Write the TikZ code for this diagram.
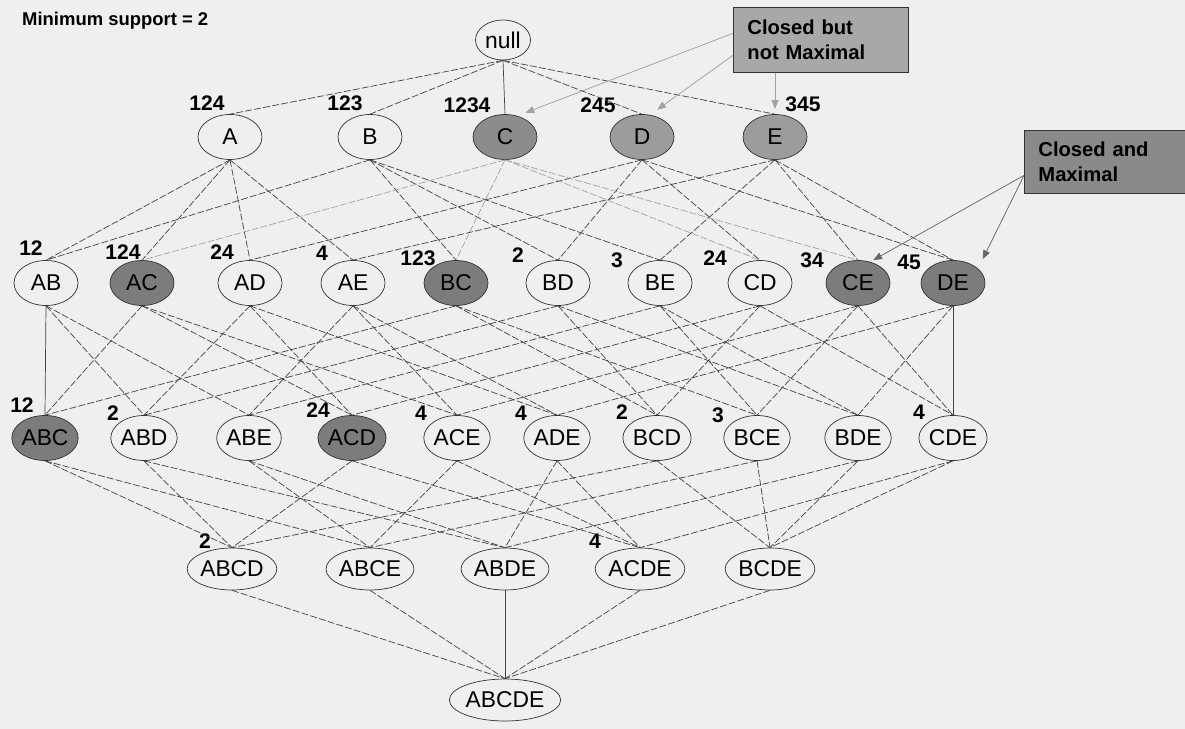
\documentclass[tikz,border=0pt]{standalone}
\usepackage{fontspec}
\setmainfont{Liberation Sans}
\usetikzlibrary{shapes.geometric, arrows.meta}
\definecolor{paperGrey}{HTML}{EFEFEF}
\definecolor{inkGrey}{HTML}{424242}
\definecolor{paleGrey}{HTML}{A2A2A2}
\definecolor{closedGrey}{HTML}{9C9C9C}
\definecolor{maxGrey}{HTML}{7C7C7C}
\definecolor{noteGrey}{HTML}{A8A8A8}
\definecolor{noteDarkGrey}{HTML}{8A8A8A}

\begin{document}
\begin{tikzpicture}[x=0.02cm, y=-0.02cm, font=\fontsize{13}{15}\selectfont,
    item/.style={ellipse, draw=black!80, thin, fill=paperGrey, inner sep=0pt,
      minimum width=1.28cm, minimum height=0.9cm},
    closed/.style={item, fill=closedGrey},
    closedmax/.style={item, fill=maxGrey},
    support/.style={font=\fontsize{12}{14}\selectfont\bfseries, inner sep=0pt},
    link/.style={draw=inkGrey, thin, dash pattern=on 4pt off 1.2pt},
    palelink/.style={link, draw=paleGrey},
    note/.style={draw=black!80, thin, anchor=north west, align=left, inner xsep=8pt,
      text width=2.94cm, font=\fontsize{11.5}{14.5}\selectfont\bfseries},
    pointer/.style={-{Triangle[length=5pt,width=4pt]}, thin}]
    \fill[paperGrey] (0,0) rectangle (1185,729);
    \useasboundingbox (0,0) rectangle (1185,729);
    \clip (0,0) rectangle (1185,729);

    \node[anchor=west, font=\fontsize{10.5}{12}\selectfont\bfseries] (minsup) at (16,21) {Minimum support = 2};

    % itemset lattice
    \node[item, minimum width=1.1cm, minimum height=0.8cm] (null) at (503,40) {null};

    \node[item] (A) at (230,137) {A};
    \node[item] (B) at (370,137) {B};
    \node[closed, fill=closedGrey!90!black] (C) at (505,137) {C};
    \node[closed] (D) at (642,137) {D};
    \node[closed] (E) at (775,137) {E};

    \node[item] (AB) at (46,283) {AB};
    \node[closedmax] (AC) at (142,283) {AC};
    \node[item] (AD) at (250,283) {AD};
    \node[item] (AE) at (353,283) {AE};
    \node[closedmax] (BC) at (456,283) {BC};
    \node[item] (BD) at (558,283) {BD};
    \node[item] (BE) at (660,283) {BE};
    \node[item] (CD) at (760,283) {CD};
    \node[closedmax] (CE) at (858,283) {CE};
    \node[closedmax] (DE) at (953,283) {DE};

    \node[closedmax] (ABC) at (45,438) {ABC};
    \node[item] (ABD) at (144,438) {ABD};
    \node[item] (ABE) at (249,438) {ABE};
    \node[closedmax] (ACD) at (352,438) {ACD};
    \node[item] (ACE) at (457,438) {ACE};
    \node[item] (ADE) at (557,438) {ADE};
    \node[item] (BCD) at (657,438) {BCD};
    \node[item] (BCE) at (757,438) {BCE};
    \node[item] (BDE) at (858,438) {BDE};
    \node[item] (CDE) at (953,438) {CDE};

    \node[item, minimum height=0.84cm] (ABCD) at (232,569) {ABCD};
    \node[item, minimum height=0.84cm] (ABCE) at (370,569) {ABCE};
    \node[item, minimum height=0.84cm] (ABDE) at (505,569) {ABDE};
    \node[item, minimum height=0.84cm] (ACDE) at (640,569) {ACDE};
    \node[item, minimum height=0.84cm] (BCDE) at (770,569) {BCDE};

    \node[item, minimum height=0.84cm] (ABCDE) at (505,700) {ABCDE};

    % support counts
    \foreach \n/\s/\px/\py in {A/124/207/103, B/123/345/103, C/1234/467/105, D/245/598/105,
        E/345/803/104, AB/12/31/248, AC/124/123/252, AD/24/222/252, AE/4/322/253,
        BC/123/418/258, BD/2/518/255, BE/3/617/260, CD/24/715/258, CE/34/812/260,
        DE/45/909/262, ABC/12/22/405, ABD/2/113/413, ACD/24/318/410, ACE/4/421/413,
        ADE/4/521/413, BCD/2/622/412, BCE/3/718/415, CDE/4/919/412,
        ABCD/2/205/541, ACDE/4/595/541}
      \node[support] (s\n) at (\px,\py) {\s};

    % subset links
    \foreach \from/\tos in {null/{A,B,D,E}, A/{AB,AC,AD,AE}, B/{AB,BC,BD,BE},
        D/{AD,BD,CD,DE}, E/{AE,BE,CE,DE},
        AB/{ABD,ABE}, AC/{ABC,ACD,ACE}, AD/{ABD,ACD,ADE}, AE/{ABE,ACE,ADE},
        BC/{ABC,BCD,BCE}, BD/{ABD,BCD,BDE}, BE/{ABE,BCE,BDE}, CD/{ACD,BCD,CDE},
        CE/{ACE,BCE,CDE}, DE/{ADE,BDE},
        ABC/{ABCD,ABCE}, ABD/{ABCD,ABDE}, ABE/{ABCE,ABDE}, ACD/{ABCD,ACDE},
        ACE/{ABCE,ACDE}, ADE/{ABDE,ACDE}, BCD/{ABCD,BCDE}, BCE/{ABCE,BCDE},
        BDE/{ABDE,BCDE}, CDE/{ACDE,BCDE},
        ABCD/{ABCDE}, ABCE/{ABCDE}, ACDE/{ABCDE}, BCDE/{ABCDE}}
      \foreach \to in \tos
        \draw[link] (\from.south) -- (\to.north);
    \foreach \to in {AC,BC,CD,CE}
      \draw[palelink] (C.south) -- (\to.north);
    \foreach \from/\to in {null/C, AB/ABC, DE/CDE, ABDE/ABCDE}
      \draw[inkGrey, thin] (\from.south) -- (\to.north);

    % legend boxes
    \node[note, fill=noteGrey, minimum height=1.3cm] (nonmax) at (733,7)
      {Closed but\\not Maximal};
    \node[note, fill=noteDarkGrey, minimum height=1.26cm] (maxbox) at (1024,130)
      {Closed and\\Maximal};

    \draw[pointer, draw=paleGrey, fill=paleGrey, shorten >=5pt] ([yshift=3.7pt]nonmax.west) -- (C.60);
    \draw[pointer, draw=paleGrey, fill=paleGrey, shorten >=5pt] ([yshift=-8.8pt]nonmax.west) -- (D.70);
    \draw[pointer, draw=paleGrey, fill=paleGrey, shorten >=3pt] (E |- nonmax.south) -- (E.north);
    \draw[pointer, draw=inkGrey!80, fill=inkGrey!80, shorten >=2pt] ([yshift=-7.7pt]maxbox.west) -- (CE.60);
    \draw[pointer, draw=inkGrey!80, fill=inkGrey!80, shorten >=6pt] ([yshift=-7.7pt]maxbox.west) -- (DE.30);
\end{tikzpicture}
\end{document}
